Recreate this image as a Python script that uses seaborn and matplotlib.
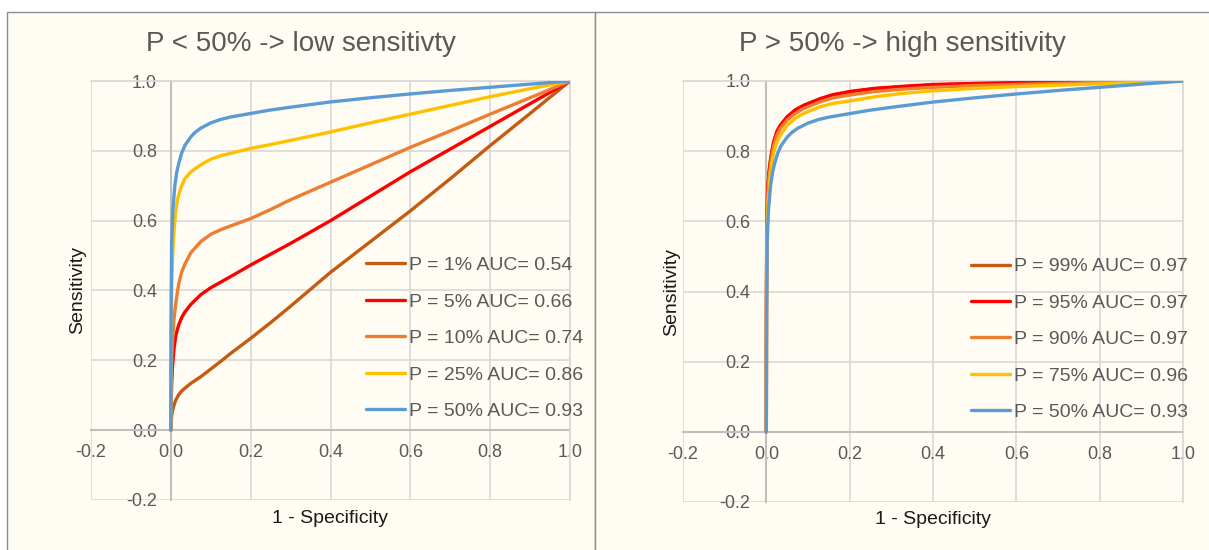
import numpy as np
import pandas as pd
import matplotlib.pyplot as plt
from matplotlib.patches import Rectangle
from matplotlib.ticker import FormatStrFormatter
import seaborn as sns

# ROC curves (1 - specificity, sensitivity)
# left panel: prevalence below 50%
fpr_low = [0, 0.0005, 0.002, 0.004, 0.008, 0.012, 0.016, 0.02, 0.027, 0.035, 0.05,
           0.075, 0.1, 0.125, 0.15, 0.2, 0.25, 0.3, 0.4, 0.5, 0.6, 0.7, 0.8, 0.9, 1.0]
tpr_01 = [0, 0.02, 0.04, 0.055, 0.072, 0.085, 0.094, 0.102, 0.112, 0.12, 0.134,
          0.153, 0.175, 0.197, 0.22, 0.263, 0.308, 0.355, 0.452, 0.54, 0.628, 0.72,
          0.815, 0.907, 1.0]
tpr_05 = [0, 0.06, 0.13, 0.18, 0.234, 0.268, 0.287, 0.302, 0.322, 0.338, 0.36,
          0.388, 0.408, 0.424, 0.44, 0.473, 0.504, 0.535, 0.6, 0.67, 0.74, 0.805,
          0.87, 0.935, 1.0]
tpr_10 = [0, 0.1, 0.2, 0.25, 0.32, 0.36, 0.392, 0.42, 0.452, 0.475, 0.508,
          0.54, 0.561, 0.574, 0.585, 0.606, 0.632, 0.66, 0.71, 0.76, 0.81, 0.857,
          0.905, 0.952, 1.0]
tpr_25 = [0, 0.2, 0.4, 0.49, 0.57, 0.625, 0.655, 0.675, 0.70, 0.72, 0.74,
          0.76, 0.776, 0.786, 0.793, 0.807, 0.818, 0.83, 0.854, 0.88, 0.905, 0.93,
          0.955, 0.978, 1.0]

# P = 50% shows up in both panels
fpr_50 = [0, 0.0005, 0.002, 0.005, 0.01, 0.015, 0.02, 0.027, 0.035, 0.05, 0.06,
          0.075, 0.1, 0.125, 0.15, 0.2, 0.25, 0.3, 0.4, 0.5, 0.6, 0.7, 0.8, 0.9, 1.0]
tpr_50 = [0, 0.3, 0.54, 0.63, 0.7, 0.74, 0.765, 0.793, 0.815, 0.84, 0.852,
          0.865, 0.88, 0.89, 0.897, 0.907, 0.917, 0.925, 0.94, 0.952, 0.963, 0.973,
          0.982, 0.991, 1.0]

# right panel: prevalence above 50%
fpr_high = [0, 0.0003, 0.001, 0.003, 0.006, 0.01, 0.014, 0.018, 0.025, 0.034, 0.05,
            0.07, 0.09, 0.13, 0.16, 0.2, 0.26, 0.33, 0.4, 0.5, 0.6, 0.8, 1.0]
tpr_75 = [0, 0.3, 0.5, 0.62, 0.684, 0.74, 0.772, 0.798, 0.825, 0.846, 0.874,
          0.894, 0.908, 0.927, 0.936, 0.943, 0.955, 0.965, 0.972, 0.979, 0.984,
          0.992, 1.0]
tpr_90 = [0, 0.35, 0.55, 0.66, 0.72, 0.76, 0.792, 0.817, 0.845, 0.865, 0.889,
          0.908, 0.922, 0.941, 0.952, 0.96, 0.97, 0.977, 0.982, 0.987, 0.99,
          0.996, 1.0]
tpr_95 = [0, 0.37, 0.57, 0.68, 0.735, 0.774, 0.803, 0.827, 0.855, 0.874, 0.898,
          0.918, 0.931, 0.95, 0.961, 0.97, 0.979, 0.985, 0.99, 0.993, 0.995,
          0.998, 1.0]
tpr_99 = [0, 0.38, 0.58, 0.685, 0.738, 0.776, 0.805, 0.828, 0.855, 0.874, 0.897,
          0.917, 0.93, 0.949, 0.96, 0.969, 0.978, 0.984, 0.989, 0.992, 0.995,
          0.998, 1.0]

low_labels = ['P = 1% AUC= 0.54', 'P = 5% AUC= 0.66', 'P = 10% AUC= 0.74',
              'P = 25% AUC= 0.86', 'P = 50% AUC= 0.93']
high_labels = ['P = 99% AUC= 0.97', 'P = 95% AUC= 0.97', 'P = 90% AUC= 0.97',
               'P = 75% AUC= 0.96', 'P = 50% AUC= 0.93']
colors = ['#C55A11', '#FF0000', '#ED7D31', '#FFC000', '#5B9BD5']
ticks = [-0.2, 0.0, 0.2, 0.4, 0.6, 0.8, 1.0]

cream = '#FEFCF3'
grey_text = '#595959'

sns.set_style('white')
plt.rcParams['font.family'] = ['Liberation Sans', 'DejaVu Sans']
plt.rcParams['axes.unicode_minus'] = False

fig = plt.figure(figsize=(12.09, 5.5), dpi=100, facecolor='white')

# chart-area boxes like the Excel frames
fig.patches.append(Rectangle((7 / 1209, -0.01), (595 - 7) / 1209, (550 - 12) / 550 + 0.01,
                             transform=fig.transFigure, facecolor=cream,
                             edgecolor='#8C8C8C', lw=1, zorder=-10))
fig.patches.append(Rectangle((595 / 1209, -0.01), 0.6, (550 - 12) / 550 + 0.01,
                             transform=fig.transFigure, facecolor=cream,
                             edgecolor='#8C8C8C', lw=1, zorder=-10))

ax1 = fig.add_axes([91 / 1209, 50 / 550, 479 / 1209, 419 / 550])
ax2 = fig.add_axes([683 / 1209, 48 / 550, 500 / 1209, 421 / 550])

panels = [
    (ax1, [(fpr_low, tpr_01), (fpr_low, tpr_05), (fpr_low, tpr_10),
           (fpr_low, tpr_25), (fpr_50, tpr_50)], low_labels,
     'P < 50% -> low sensitivty', 301, 10, -0.027, -0.045, (0.574, 0.386)),
    (ax2, [(fpr_high, tpr_99), (fpr_high, tpr_95), (fpr_high, tpr_90),
           (fpr_high, tpr_75), (fpr_50, tpr_50)], high_labels,
     'P > 50% -> high sensitivity', 902, 11.5, -0.022, -0.042, (0.576, 0.386)),
]

for ax, curves, labels, title, title_x, ypad, ylab_x, xlab_y, leg_xy in panels:
    ax.set_facecolor(cream)
    for (x, y), lab, c in zip(curves, labels, colors):
        df = pd.DataFrame({'fpr': x, 'tpr': y})
        sns.lineplot(data=df, x='fpr', y='tpr', color=c, lw=2.4, label=lab,
                     estimator=None, sort=False, ax=ax, zorder=3)

    ax.set_xlim(-0.2, 1.0)
    ax.set_ylim(-0.2, 1.0)
    ax.set_xticks(ticks)
    ax.set_yticks(ticks)
    ax.xaxis.set_major_formatter(FormatStrFormatter('%.1f'))
    ax.yaxis.set_major_formatter(FormatStrFormatter('%.1f'))
    ax.grid(True, color='#D9D9D9', lw=1.2)
    for gl in ax.get_xgridlines() + ax.get_ygridlines():
        gl.set_clip_on(False)

    # axes cross at zero, Excel style
    ax.spines['left'].set_position(('data', 0))
    ax.spines['bottom'].set_position(('data', 0))
    for s in ['left', 'bottom']:
        ax.spines[s].set_color('#BFBFBF')
        ax.spines[s].set_linewidth(1.5)
        ax.spines[s].set_zorder(2)
    for s in ['top', 'right']:
        ax.spines[s].set_color('#D9D9D9')
        ax.spines[s].set_linewidth(1.2)

    ax.tick_params(axis='x', length=0, pad=10, labelsize=13, labelcolor=grey_text)
    ax.tick_params(axis='y', length=0, pad=ypad, labelsize=13, labelcolor=grey_text)

    ax.set_xlabel('1 - Specificity', fontsize=14, color='#1A1A1A', va='center')
    ax.xaxis.set_label_coords(0.5, xlab_y)
    ax.set_ylabel('Sensitivity', fontsize=14, color='#1A1A1A', va='center')
    ax.yaxis.set_label_coords(ylab_x, 0.5)

    # title is centred on the chart frame, not on the plot area
    fig.text(title_x / 1209, 1 - 44 / 550, title, fontsize=20, color=grey_text,
             ha='center', va='center')

    ax.legend(loc='center left', bbox_to_anchor=leg_xy, frameon=False,
              fontsize=14, labelcolor=grey_text, handlelength=2.0,
              handletextpad=0.2, labelspacing=0.97, borderpad=0,
              borderaxespad=0)

fig.savefig('out.png', dpi=100, facecolor='white')
